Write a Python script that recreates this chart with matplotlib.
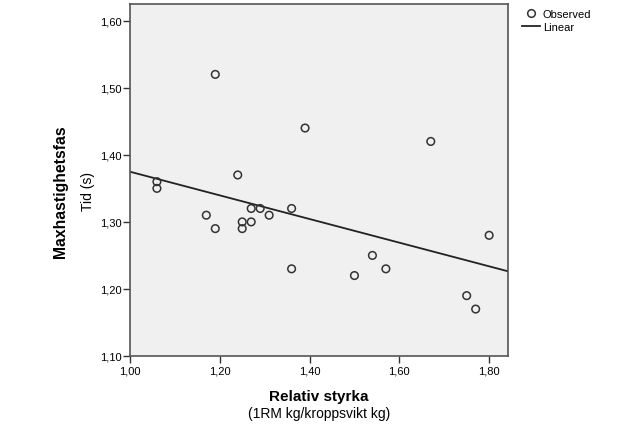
import numpy as np
import matplotlib.pyplot as plt
from matplotlib.lines import Line2D
from matplotlib.ticker import FuncFormatter

plt.rcParams["font.family"] = ["Liberation Sans", "DejaVu Sans"]

# ---------------- Data ----------------
rel_styrka = [1.06, 1.06, 1.19, 1.24, 1.39, 1.67, 1.17, 1.19, 1.25, 1.25, 1.27,
              1.27, 1.29, 1.31, 1.36, 1.36, 1.50, 1.54, 1.57, 1.75, 1.77, 1.80]
tid = [1.36, 1.35, 1.52, 1.37, 1.44, 1.42, 1.31, 1.29, 1.30, 1.29, 1.32,
       1.30, 1.32, 1.31, 1.32, 1.23, 1.22, 1.25, 1.23, 1.19, 1.17, 1.28]

x_ticks = [1.00, 1.20, 1.40, 1.60, 1.80]
y_ticks = [1.10, 1.20, 1.30, 1.40, 1.50, 1.60]

x = np.array(rel_styrka)
y = np.array(tid)
slope, intercept = np.polyfit(x, y, 1)

# ---------------- Figure ----------------
fig = plt.figure(figsize=(6.27, 4.31), dpi=100)
ax = fig.add_axes([0.2073, 0.1717, 0.6029, 0.8167])
ax.set_facecolor("#f0f0f0")

xlim = (1.0, 1.842)
ax.scatter(x, y, s=30, facecolors="none", edgecolors="#333333", linewidths=1.1, zorder=3)
xl = np.array(xlim)
ax.plot(xl, intercept + slope * xl, color="#222222", lw=1.3, zorder=2)

ax.set_xlim(*xlim)
ax.set_ylim(1.10, 1.625)
ax.set_xticks(x_ticks)
ax.set_yticks(y_ticks)
fmt = FuncFormatter(lambda v, p: f"{v:.2f}".replace(".", ","))
ax.xaxis.set_major_formatter(fmt)
ax.yaxis.set_major_formatter(fmt)
ax.tick_params(direction="out", length=5, width=1, labelsize=8, color="#333333", pad=1)
ax.tick_params(axis="x", pad=2)

for s in ax.spines.values():
    s.set_color("#555555")
    s.set_linewidth(1.2)

fig.text(0.509, 0.079, "Relativ styrka", ha="center", va="center",
         fontsize=11, fontweight="bold")
fig.text(0.509, 0.040, "(1RM kg/kroppsvikt kg)", ha="center", va="center",
         fontsize=10)
fig.text(0.096, 0.556, "Maxhastighetsfas", ha="center", va="center", rotation=90,
         fontsize=11.3, fontweight="bold")
fig.text(0.141, 0.556, "Tid (s)", ha="center", va="center", rotation=90,
         fontsize=10)

handles = [
    Line2D([], [], marker="o", ls="none", mfc="none", mec="#333333", ms=5.5, mew=1.1),
    Line2D([], [], color="#222222", lw=1.3),
]
fig.legend(handles, ["Observed", "Linear"], loc="upper left",
           bbox_to_anchor=(0.8325, 0.977), frameon=False, fontsize=8,
           handlelength=1.6, handletextpad=0.27, labelspacing=0.3, borderaxespad=0,
           borderpad=0)

fig.savefig("out.png", dpi=100)
